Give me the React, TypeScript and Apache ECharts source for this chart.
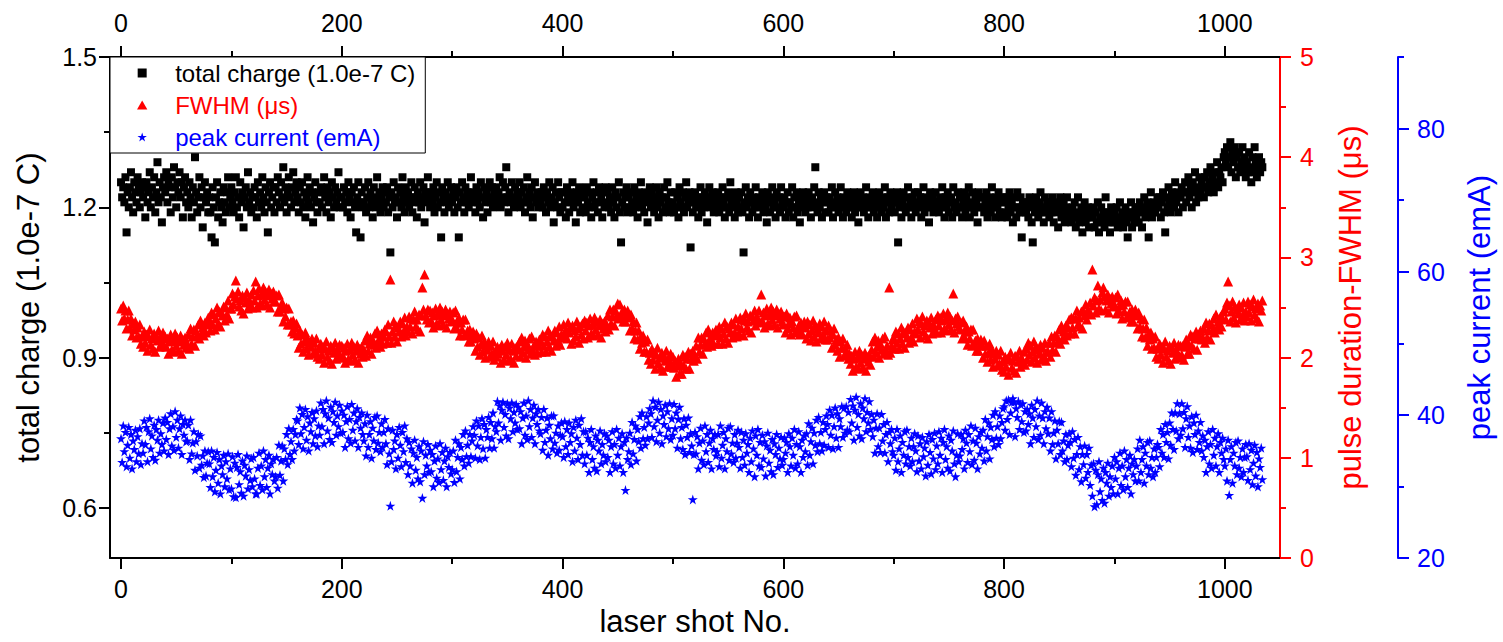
import React, { useEffect, useRef } from "react";
import * as echarts from "echarts";

const FONT = "'Liberation Sans', Arial, Helvetica, sans-serif";

// tick values
const xMajorTicks = [0, 200, 400, 600, 800, 1000];
const xMinorTicks = [100, 300, 500, 700, 900];
const chargeTicks = [0.6, 0.9, 1.2, 1.5];
const chargeMinorTicks = [0.75, 1.05, 1.35];
const fwhmTicks = [0, 1, 2, 3, 4, 5];
const fwhmMinorTicks = [0.5, 1.5, 2.5, 3.5, 4.5];
const currentTicks = [20, 40, 60, 80];
const currentMinorTicks = [30, 50, 70, 90];

// total charge (1.0e-7 C), one value per laser shot, shot No. = index
const chargeC = [
1.25,1.22,1.24,1.21,1.26,1.15,1.23,1.20,1.24,1.27,1.22,1.19,1.25,1.23,1.21,1.26,1.24,1.20,1.23,1.25,
1.22,1.24,1.18,1.25,1.21,1.23,1.27,1.20,1.24,1.22,1.26,1.19,1.23,1.29,1.21,1.25,1.22,1.17,1.24,1.26,
1.23,1.27,1.21,1.25,1.24,1.19,1.26,1.22,1.28,1.24,1.20,1.25,1.23,1.27,1.22,1.25,1.18,1.24,1.26,1.21,
1.23,1.20,1.25,1.22,1.18,1.24,1.21,1.30,1.23,1.19,1.22,1.26,1.20,1.24,1.16,1.22,1.25,1.21,1.23,1.19,
1.22,1.19,1.14,1.24,1.20,1.13,1.22,1.25,1.18,1.21,1.23,1.20,1.17,1.24,1.21,1.19,1.23,1.26,1.20,1.22,
1.24,1.21,1.19,1.23,1.26,1.20,1.22,1.18,1.25,1.21,1.23,1.16,1.22,1.24,1.20,1.27,1.21,1.23,1.19,1.22,
1.20,1.24,1.22,1.18,1.25,1.21,1.23,1.20,1.26,1.22,1.19,1.24,1.21,1.15,1.23,1.25,1.20,1.22,1.24,1.19,
1.24,1.21,1.26,1.23,1.20,1.25,1.22,1.28,1.21,1.24,1.19,1.23,1.26,1.22,1.20,1.24,1.27,1.21,1.23,1.25,
1.22,1.19,1.24,1.21,1.25,1.20,1.23,1.18,1.22,1.26,1.21,1.24,1.20,1.23,1.17,1.22,1.25,1.21,1.19,1.23,
1.21,1.24,1.20,1.23,1.26,1.22,1.19,1.24,1.21,1.23,1.18,1.25,1.22,1.20,1.24,1.21,1.23,1.27,1.20,1.22,
1.22,1.20,1.24,1.21,1.23,1.19,1.25,1.22,1.18,1.23,1.21,1.24,1.20,1.15,1.22,1.25,1.21,1.14,1.23,1.20,
1.21,1.24,1.19,1.22,1.25,1.20,1.23,1.21,1.18,1.24,1.22,1.20,1.26,1.21,1.23,1.19,1.22,1.24,1.20,1.23,
1.21,1.24,1.19,1.22,1.11,1.23,1.20,1.25,1.21,1.22,1.18,1.24,1.21,1.23,1.20,1.26,1.22,1.19,1.24,1.21,
1.23,1.20,1.22,1.25,1.19,1.21,1.24,1.22,1.18,1.23,1.21,1.25,1.20,1.22,1.24,1.17,1.23,1.21,1.26,1.22,
1.20,1.23,1.21,1.24,1.19,1.22,1.25,1.20,1.23,1.21,1.14,1.24,1.22,1.19,1.23,1.21,1.25,1.20,1.22,1.24,
1.21,1.23,1.19,1.22,1.24,1.20,1.14,1.23,1.21,1.25,1.22,1.19,1.24,1.21,1.23,1.20,1.22,1.26,1.21,1.23,
1.22,1.19,1.24,1.21,1.23,1.20,1.25,1.22,1.18,1.24,1.21,1.23,1.19,1.22,1.25,1.21,1.24,1.20,1.23,1.22,
1.24,1.21,1.23,1.26,1.20,1.22,1.25,1.21,1.24,1.28,1.22,1.19,1.23,1.21,1.25,1.22,1.20,1.24,1.21,1.23,
1.22,1.25,1.20,1.23,1.21,1.24,1.19,1.22,1.26,1.21,1.23,1.20,1.24,1.18,1.22,1.25,1.21,1.23,1.20,1.22,
1.21,1.23,1.20,1.24,1.22,1.19,1.23,1.21,1.25,1.20,1.22,1.24,1.17,1.21,1.23,1.20,1.25,1.22,1.19,1.23,
1.20,1.23,1.21,1.18,1.24,1.22,1.19,1.23,1.21,1.25,1.20,1.22,1.17,1.23,1.21,1.24,1.19,1.22,1.20,1.23,
1.22,1.19,1.24,1.21,1.20,1.23,1.18,1.22,1.25,1.20,1.21,1.23,1.19,1.24,1.21,1.22,1.18,1.23,1.20,1.24,
1.21,1.23,1.20,1.22,1.19,1.24,1.21,1.18,1.23,1.20,1.22,1.25,1.19,1.13,1.21,1.23,1.20,1.22,1.24,1.19,
1.22,1.20,1.23,1.21,1.19,1.24,1.20,1.22,1.18,1.23,1.21,1.25,1.20,1.22,1.19,1.23,1.21,1.17,1.22,1.24,
1.20,1.23,1.21,1.19,1.22,1.24,1.20,1.18,1.23,1.21,1.22,1.19,1.24,1.20,1.22,1.25,1.21,1.19,1.23,1.20,
1.21,1.19,1.23,1.20,1.22,1.18,1.24,1.21,1.20,1.23,1.19,1.22,1.25,1.20,1.21,1.23,1.12,1.22,1.19,1.21,
1.23,1.20,1.22,1.18,1.21,1.24,1.19,1.22,1.20,1.23,1.21,1.17,1.22,1.24,1.20,1.21,1.23,1.19,1.22,1.20,
1.21,1.23,1.19,1.22,1.20,1.24,1.21,1.18,1.22,1.20,1.23,1.19,1.25,1.21,1.22,1.20,1.18,1.23,1.21,1.19,
1.22,1.20,1.23,1.19,1.11,1.21,1.24,1.20,1.22,1.18,1.23,1.21,1.19,1.22,1.20,1.24,1.21,1.18,1.22,1.20,
1.21,1.23,1.19,1.22,1.20,1.17,1.23,1.21,1.19,1.22,1.24,1.20,1.21,1.18,1.23,1.20,1.22,1.19,1.24,1.21,
1.20,1.22,1.18,1.21,1.23,1.19,1.21,1.20,1.24,1.18,1.22,1.20,1.23,1.19,1.21,1.17,1.22,1.20,1.23,1.21,
1.19,1.22,1.20,1.23,1.21,1.18,1.22,1.20,1.24,1.28,1.21,1.19,1.23,1.20,1.22,1.18,1.21,1.23,1.19,1.22,
1.21,1.19,1.22,1.20,1.24,1.18,1.21,1.23,1.20,1.22,1.19,1.21,1.24,1.20,1.18,1.22,1.21,1.19,1.23,1.20,
1.22,1.20,1.18,1.21,1.23,1.19,1.22,1.20,1.17,1.21,1.23,1.20,1.22,1.19,1.21,1.24,1.20,1.18,1.22,1.21,
1.20,1.23,1.19,1.21,1.22,1.18,1.20,1.23,1.21,1.19,1.22,1.20,1.24,1.18,1.21,1.22,1.19,1.23,1.20,1.21,
1.22,1.19,1.21,1.23,1.13,1.20,1.22,1.18,1.21,1.23,1.20,1.19,1.22,1.24,1.20,1.21,1.18,1.22,1.20,1.23,
1.19,1.21,1.23,1.20,1.22,1.18,1.21,1.24,1.19,1.22,1.20,1.21,1.17,1.23,1.20,1.22,1.19,1.21,1.23,1.20,
1.21,1.19,1.22,1.20,1.24,1.21,1.18,1.22,1.20,1.23,1.19,1.21,1.22,1.18,1.24,1.20,1.21,1.19,1.23,1.20,
1.22,1.20,1.18,1.21,1.23,1.19,1.22,1.20,1.24,1.18,1.21,1.23,1.20,1.19,1.22,1.21,1.17,1.23,1.20,1.22,
1.20,1.22,1.19,1.21,1.23,1.18,1.20,1.22,1.19,1.24,1.21,1.20,1.18,1.22,1.20,1.23,1.19,1.21,1.18,1.22,
1.21,1.19,1.22,1.18,1.20,1.23,1.19,1.21,1.17,1.22,1.20,1.18,1.23,1.20,1.19,1.22,1.14,1.21,1.19,1.20,
1.19,1.21,1.18,1.22,1.20,1.17,1.13,1.21,1.19,1.22,1.20,1.18,1.21,1.23,1.19,1.20,1.17,1.22,1.19,1.21,
1.20,1.18,1.21,1.19,1.22,1.17,1.20,1.19,1.21,1.16,1.20,1.22,1.18,1.19,1.21,1.17,1.20,1.22,1.18,1.19,
1.19,1.17,1.20,1.18,1.21,1.16,1.19,1.22,1.17,1.18,1.20,1.15,1.19,1.21,1.17,1.18,1.20,1.16,1.19,1.18,
1.18,1.20,1.16,1.19,1.17,1.21,1.15,1.18,1.20,1.17,1.19,1.16,1.22,1.18,1.17,1.19,1.15,1.20,1.18,1.17,
1.19,1.17,1.20,1.16,1.18,1.21,1.17,1.19,1.16,1.18,1.20,1.17,1.14,1.19,1.18,1.21,1.16,1.19,1.17,1.20,
1.18,1.20,1.17,1.21,1.19,1.16,1.20,1.22,1.18,1.19,1.21,1.14,1.20,1.23,1.18,1.19,1.21,1.19,1.20,1.22,
1.20,1.22,1.18,1.21,1.23,1.19,1.15,1.22,1.20,1.24,1.21,1.19,1.23,1.22,1.20,1.25,1.21,1.23,1.19,1.22,
1.22,1.24,1.20,1.23,1.25,1.21,1.23,1.26,1.22,1.24,1.20,1.25,1.23,1.27,1.21,1.24,1.22,1.26,1.23,1.25,
1.24,1.22,1.26,1.24,1.27,1.23,1.25,1.28,1.24,1.26,1.23,1.27,1.25,1.29,1.24,1.27,1.26,1.28,1.25,1.30,
1.31,1.29,1.32,1.28,1.30,1.33,1.27,1.31,1.29,1.32,1.26,1.30,1.28,1.31,1.27,1.29,1.32,1.28,1.30,1.26,
1.29,1.27,1.31,1.28,1.25,1.30,1.27,1.32,1.29,1.26,1.28,1.30,1.27,1.29,1.28,
];

// pulse duration FWHM (μs)
const fwhmUs = [
2.49,2.37,2.52,2.39,2.47,2.29,2.38,2.47,2.30,2.39,2.22,2.34,2.28,2.36,2.20,2.30,2.21,2.33,2.14,2.21,
2.11,2.26,2.15,2.23,2.07,2.21,2.28,2.13,2.19,2.09,2.24,2.06,2.22,2.17,2.27,2.11,2.20,2.15,2.25,2.12,
2.21,2.11,2.19,2.04,2.16,2.23,2.08,2.17,2.06,2.24,2.12,2.20,2.07,2.16,2.22,2.04,2.18,2.13,2.20,2.10,
2.14,2.23,2.09,2.29,2.14,2.21,2.28,2.12,2.27,2.22,2.33,2.19,2.37,2.24,2.30,2.22,2.35,2.25,2.33,2.40,
2.37,2.27,2.45,2.33,2.43,2.28,2.39,2.50,2.34,2.46,2.31,2.45,2.42,2.51,2.37,2.50,2.43,2.57,2.39,2.49,
2.49,2.64,2.53,2.61,2.77,2.59,2.66,2.51,2.57,2.47,2.62,2.44,2.60,2.55,2.65,2.49,2.58,2.53,2.63,2.50,
2.67,2.57,2.76,2.50,2.62,2.69,2.54,2.63,2.52,2.70,2.58,2.66,2.53,2.62,2.68,2.50,2.64,2.59,2.66,2.56,
2.56,2.62,2.46,2.63,2.46,2.51,2.55,2.36,2.49,2.41,2.50,2.33,2.49,2.33,2.36,2.26,2.37,2.24,2.30,2.34,
2.22,2.10,2.27,2.14,2.23,2.06,2.16,2.25,2.09,2.19,2.03,2.15,2.11,2.19,2.04,2.15,2.07,2.19,2.01,2.09,
1.99,2.14,2.03,2.11,1.95,2.09,2.16,2.01,2.07,1.97,2.12,1.94,2.10,2.05,2.15,1.99,2.08,2.03,2.13,2.00,
2.12,2.02,2.10,1.95,2.07,2.14,1.99,2.08,1.97,2.15,2.03,2.11,1.98,2.07,2.13,1.95,2.09,2.04,2.11,2.01,
2.08,2.17,2.02,2.22,2.07,2.14,2.20,2.04,2.18,2.13,2.24,2.10,2.27,2.14,2.19,2.11,2.24,2.14,2.21,2.28,
2.26,2.15,2.33,2.21,2.78,2.15,2.26,2.36,2.21,2.32,2.16,2.30,2.26,2.36,2.21,2.34,2.26,2.40,2.22,2.31,
2.26,2.41,2.31,2.39,2.24,2.38,2.46,2.31,2.38,2.28,2.43,2.26,2.42,2.70,2.48,2.83,2.42,2.38,2.48,2.35,
2.47,2.37,2.45,2.30,2.42,2.49,2.34,2.43,2.32,2.50,2.38,2.46,2.33,2.42,2.48,2.30,2.44,2.39,2.46,2.36,
2.38,2.45,2.29,2.47,2.30,2.35,2.40,2.22,2.35,2.28,2.38,2.22,2.38,2.23,2.27,2.16,2.28,2.16,2.22,2.26,
2.19,2.07,2.24,2.11,2.20,2.03,2.13,2.22,2.06,2.16,2.00,2.12,2.08,2.16,2.01,2.12,2.04,2.16,1.98,2.06,
2.01,2.11,2.04,2.09,1.95,2.13,2.07,1.98,2.11,2.03,2.15,1.97,2.08,1.99,2.14,2.07,1.95,2.10,2.02,2.12,
2.08,2.16,2.01,2.20,2.05,2.11,2.17,2.00,2.14,2.08,2.19,2.04,2.21,2.07,2.12,2.03,2.16,2.05,2.12,2.18,
2.16,2.06,2.23,2.12,2.21,2.06,2.16,2.27,2.11,2.23,2.07,2.21,2.17,2.27,2.12,2.25,2.17,2.31,2.13,2.23,
2.20,2.33,2.23,2.28,2.19,2.35,2.25,2.30,2.14,2.32,2.17,2.27,2.21,2.36,2.29,2.15,2.31,2.23,2.34,2.19,
2.37,2.27,2.35,2.20,2.32,2.39,2.24,2.33,2.22,2.40,2.28,2.36,2.23,2.32,2.38,2.20,2.34,2.29,2.36,2.26,
2.33,2.42,2.28,2.48,2.34,2.41,2.48,2.32,2.47,2.42,2.54,2.39,2.53,2.42,2.46,2.36,2.48,2.36,2.42,2.47,
2.40,2.27,2.43,2.29,2.36,2.19,2.27,2.35,2.18,2.27,2.09,2.21,2.15,2.22,2.06,2.16,2.06,2.18,1.98,2.05,
1.94,2.09,1.98,2.05,1.89,2.03,2.10,1.94,2.00,1.90,2.05,1.87,2.02,1.97,2.07,1.91,1.99,1.94,2.04,1.91,
2.01,1.90,1.97,1.81,1.92,1.99,1.84,1.94,1.84,2.03,1.92,2.01,1.89,1.99,2.06,1.89,2.04,1.99,2.07,1.97,
2.02,2.12,1.99,2.20,2.06,2.13,2.20,2.04,2.19,2.14,2.25,2.11,2.28,2.15,2.20,2.12,2.25,2.14,2.22,2.28,
2.24,2.14,2.31,2.20,2.29,2.14,2.24,2.35,2.19,2.31,2.15,2.29,2.25,2.35,2.20,2.33,2.25,2.39,2.21,2.31,
2.24,2.40,2.29,2.38,2.22,2.37,2.44,2.30,2.36,2.27,2.42,2.25,2.41,2.37,2.47,2.32,2.41,2.37,2.47,2.35,
2.63,2.37,2.45,2.30,2.42,2.49,2.34,2.43,2.32,2.50,2.38,2.46,2.33,2.42,2.48,2.30,2.44,2.39,2.46,2.36,
2.33,2.41,2.25,2.44,2.29,2.34,2.40,2.23,2.36,2.30,2.41,2.25,2.42,2.28,2.32,2.23,2.35,2.24,2.31,2.36,
2.30,2.19,2.36,2.24,2.33,2.17,2.27,2.37,2.21,2.32,2.16,2.29,2.25,2.34,2.19,2.31,2.23,2.36,2.18,2.27,
2.18,2.32,2.20,2.27,2.10,2.23,2.29,2.13,2.18,2.07,2.20,2.01,2.16,2.10,2.19,2.02,2.10,2.04,2.13,1.99,
2.04,1.94,2.02,1.87,1.99,2.06,1.91,2.00,1.89,2.07,1.95,2.03,1.90,1.99,2.05,1.87,2.01,1.96,2.03,1.93,
2.08,2.16,2.01,2.20,2.05,2.11,2.17,2.00,2.14,2.08,2.19,2.04,2.21,2.07,2.12,2.03,2.70,2.05,2.12,2.18,
2.19,2.09,2.26,2.15,2.24,2.09,2.19,2.30,2.14,2.26,2.10,2.24,2.20,2.30,2.15,2.28,2.20,2.34,2.16,2.26,
2.24,2.39,2.28,2.36,2.20,2.34,2.41,2.26,2.32,2.22,2.37,2.19,2.35,2.30,2.40,2.24,2.33,2.28,2.38,2.25,
2.42,2.32,2.40,2.25,2.37,2.44,2.29,2.38,2.27,2.45,2.33,2.41,2.28,2.37,2.64,2.25,2.39,2.34,2.41,2.31,
2.28,2.35,2.19,2.37,2.21,2.26,2.31,2.13,2.26,2.19,2.28,2.12,2.28,2.13,2.17,2.07,2.19,2.07,2.13,2.18,
2.12,2.00,2.17,2.04,2.12,1.96,2.05,2.14,1.98,2.08,1.91,2.04,1.99,2.07,1.92,2.03,1.94,2.07,1.88,1.96,
1.86,2.01,1.91,1.99,1.83,1.98,2.05,1.90,1.97,1.87,2.02,1.85,2.01,1.96,2.07,1.91,2.00,1.96,2.06,1.93,
2.09,1.98,2.15,2.03,2.12,1.96,2.06,2.16,2.00,2.11,1.95,2.08,2.04,2.13,1.98,2.10,2.02,2.15,1.97,2.06,
2.06,2.15,2.01,2.21,2.08,2.15,2.22,2.06,2.21,2.16,2.28,2.14,2.32,2.19,2.26,2.18,2.32,2.22,2.30,2.38,
2.24,2.40,2.30,2.39,2.24,2.39,2.47,2.33,2.40,2.31,2.46,2.29,2.46,2.42,2.53,2.38,2.48,2.44,2.55,2.43,
2.88,2.52,2.60,2.45,2.57,2.72,2.49,2.58,2.47,2.65,2.70,2.61,2.48,2.57,2.63,2.45,2.59,2.54,2.61,2.51,
2.53,2.60,2.44,2.63,2.47,2.52,2.57,2.39,2.53,2.46,2.56,2.40,2.56,2.42,2.46,2.36,2.48,2.36,2.43,2.48,
2.42,2.29,2.45,2.31,2.39,2.21,2.29,2.38,2.20,2.30,2.12,2.24,2.18,2.25,2.09,2.19,2.10,2.21,2.01,2.09,
1.99,2.14,2.03,2.11,1.95,2.09,2.16,2.01,2.07,1.97,2.12,1.94,2.10,2.05,2.15,1.99,2.08,2.03,2.13,2.00,
2.12,2.03,2.12,1.98,2.11,2.18,2.04,2.14,2.04,2.23,2.12,2.21,2.09,2.19,2.26,2.08,2.23,2.19,2.27,2.18,
2.20,2.29,2.15,2.35,2.20,2.27,2.34,2.18,2.33,2.28,2.39,2.25,2.43,2.30,2.36,2.28,2.41,2.31,2.39,2.46,
2.49,2.38,2.55,2.76,2.52,2.36,2.46,2.56,2.40,2.51,2.35,2.48,2.44,2.53,2.38,2.50,2.42,2.55,2.37,2.46,
2.41,2.56,2.45,2.53,2.37,2.51,2.58,2.43,2.49,2.39,2.54,2.36,2.52,2.47,2.57,
];

// peak current (emA)
const peakCurrent = [
36.7,33.4,38.5,34.9,37.6,32.8,35.8,38.3,34.0,37.3,32.5,36.4,35.2,37.9,33.5,37.0,34.6,38.1,33.1,36.0,
34.7,39.2,35.9,38.3,33.5,37.7,39.5,35.3,37.1,34.1,38.6,33.7,38.0,36.5,39.3,34.7,37.4,35.9,38.9,35.0,
39.6,36.6,39.0,34.5,38.1,40.2,35.7,38.4,35.1,40.5,36.9,39.3,35.4,38.1,39.9,34.5,38.7,37.2,39.3,36.3,
36.4,38.6,33.8,39.3,34.6,36.1,37.7,32.3,36.3,34.3,37.3,32.6,37.1,33.0,34.3,31.3,35.0,31.5,33.3,34.9,
33.2,29.9,35.0,31.4,34.1,29.3,32.3,34.8,30.5,33.8,29.0,32.9,31.7,34.4,30.0,33.5,31.1,34.6,29.6,32.5,
29.7,34.2,28.6,33.3,28.5,32.7,34.5,30.3,32.1,29.1,33.6,28.7,33.0,31.5,34.3,29.7,32.4,30.9,33.9,30.0,
34.1,31.1,29.0,29.0,32.6,34.7,30.2,32.9,29.6,35.0,31.4,33.8,29.9,32.6,34.4,29.0,33.2,31.7,33.8,30.8,
31.4,34.1,29.8,35.8,31.6,33.6,35.7,30.8,35.3,33.8,37.3,33.1,38.1,34.5,36.3,33.8,38.0,35.0,37.3,39.4,
39.2,35.9,41.0,37.4,40.1,35.3,38.3,40.8,36.5,39.8,35.0,38.9,37.7,40.4,36.0,39.5,37.1,40.6,35.6,38.5,
37.2,41.7,38.4,40.8,36.0,40.2,42.0,37.8,39.6,36.6,41.1,36.2,40.5,39.0,41.8,37.2,39.9,38.4,41.4,37.5,
40.6,37.6,40.0,35.5,39.1,41.2,36.7,39.4,36.1,41.5,37.9,40.3,36.4,39.1,40.9,35.5,39.7,38.2,40.3,37.3,
36.4,38.8,34.3,40.0,35.5,37.3,39.1,34.0,38.2,36.4,39.7,35.2,39.9,36.1,37.6,34.9,38.8,35.5,37.6,39.4,
36.0,33.1,38.1,34.6,27.3,33.5,37.9,35.2,36.4,32.5,37.3,34.0,38.3,35.8,32.8,37.6,34.9,38.5,33.4,36.7,
31.7,36.2,32.9,35.3,30.5,34.7,36.5,32.3,34.1,31.1,35.6,30.7,35.0,28.4,36.3,31.7,34.4,32.9,35.9,32.0,
35.1,32.1,34.5,30.0,33.6,35.7,31.2,33.9,30.6,36.0,32.4,34.8,30.9,33.6,35.4,30.0,34.2,32.7,34.8,31.8,
32.4,35.0,30.6,36.5,32.1,34.1,36.0,31.1,35.5,33.8,37.3,32.9,37.8,34.2,35.8,33.3,37.3,34.2,36.4,38.4,
37.2,34.0,39.2,35.7,38.5,33.8,36.9,39.5,35.3,38.7,34.0,38.0,36.9,39.7,35.4,39.0,36.7,40.3,35.4,38.4,
37.7,41.9,38.9,41.3,36.5,40.7,41.8,38.3,40.1,37.1,41.6,36.7,41.0,39.5,41.7,37.7,40.4,38.9,41.5,38.0,
41.1,38.1,40.5,36.0,39.6,41.7,37.2,39.9,36.6,42.0,38.4,40.8,36.9,39.6,41.4,36.0,40.2,38.7,40.8,37.8,
37.4,39.7,35.1,40.8,36.2,37.9,39.6,34.4,38.6,36.7,39.9,35.3,39.9,36.1,37.5,34.7,38.5,35.1,37.2,38.9,
37.0,34.1,39.1,35.6,38.0,34.5,38.9,36.2,37.4,33.5,38.3,35.0,39.3,36.8,33.8,38.6,35.9,39.5,34.4,37.7,
33.2,37.7,34.4,36.8,32.0,36.2,38.0,33.8,35.6,32.6,37.1,32.2,36.5,35.0,37.8,33.2,35.9,34.4,37.4,33.5,
37.1,34.1,36.5,32.0,35.6,37.7,33.2,35.9,32.6,38.0,34.4,36.8,32.9,35.6,37.4,32.0,36.2,29.5,36.8,33.8,
34.9,37.5,33.1,39.0,34.6,36.6,38.5,33.6,38.0,36.3,39.8,35.4,40.3,36.7,38.3,35.8,39.8,36.7,38.9,40.9,
40.2,36.9,42.0,38.4,41.1,36.3,39.3,41.8,37.5,40.8,36.0,39.9,38.7,41.4,37.0,40.5,38.1,41.6,36.6,39.5,
37.2,41.5,38.1,40.3,35.4,39.4,41.1,36.7,38.3,35.2,39.5,34.5,38.6,36.9,39.6,34.8,37.4,35.7,28.2,34.5,
37.6,34.6,37.0,32.5,36.1,38.2,33.7,36.4,33.1,38.5,34.9,37.3,33.4,36.1,37.9,32.5,36.7,35.2,37.3,34.3,
34.9,37.3,32.8,38.5,34.0,35.8,37.6,32.5,36.7,34.9,38.2,33.7,38.4,34.6,36.1,33.4,37.3,34.0,36.1,37.9,
35.5,32.6,37.6,34.1,36.5,33.0,37.4,34.7,35.9,32.0,36.8,33.5,37.8,35.3,31.4,37.1,34.4,38.0,32.9,36.2,
32.7,37.2,33.9,36.3,31.5,35.7,37.5,33.3,35.1,32.1,36.6,31.7,36.0,34.5,37.3,32.7,35.4,33.9,36.9,33.0,
33.8,36.8,34.7,36.2,32.0,37.4,35.6,32.9,36.8,34.4,38.0,32.6,35.9,33.2,37.7,35.6,32.0,36.5,34.1,37.1,
34.9,37.4,33.0,38.8,34.4,36.3,38.2,33.2,37.5,35.8,39.3,34.9,39.7,36.0,37.6,35.0,39.0,35.8,38.0,39.9,
38.7,35.5,40.7,37.2,40.0,35.3,38.4,41.0,36.8,40.2,35.5,39.5,38.4,41.2,36.9,41.0,37.5,41.2,37.9,40.4,
37.7,42.2,38.9,41.3,36.5,40.7,42.5,38.3,40.1,37.1,41.6,36.7,41.0,39.5,42.3,37.7,40.4,38.9,41.9,38.0,
40.1,37.0,39.3,34.7,38.2,40.2,35.6,38.2,34.8,40.1,36.4,38.7,34.7,37.3,39.0,33.5,37.6,36.0,38.0,34.9,
34.4,36.8,32.3,38.0,33.5,35.3,37.1,32.0,36.2,34.4,37.7,33.2,37.9,34.1,35.6,32.9,36.8,33.5,35.6,37.4,
35.0,32.1,37.1,33.6,36.0,32.5,36.9,34.2,35.4,31.5,36.3,33.0,37.3,34.8,31.8,36.6,33.9,37.5,32.4,35.7,
33.2,37.7,34.4,36.8,32.0,36.2,38.0,33.8,35.6,32.6,37.1,32.2,36.5,35.0,37.8,33.2,31.4,34.4,37.4,33.5,
34.3,37.3,35.2,36.7,32.5,37.9,36.1,33.4,37.3,34.9,38.5,33.1,36.4,33.7,38.2,36.1,32.5,37.0,34.6,37.6,
35.4,37.9,33.6,39.4,35.0,37.0,38.9,33.9,38.3,36.6,40.0,35.6,40.5,36.8,38.4,35.9,39.9,36.7,39.0,40.9,
41.2,37.9,42.0,39.4,42.1,37.3,40.3,41.8,42.3,41.8,37.0,40.9,39.7,41.9,38.0,41.5,39.1,41.6,37.6,40.5,
37.8,40.8,38.7,40.2,36.0,41.4,39.6,36.9,40.8,38.4,42.0,36.6,39.9,37.2,41.7,39.6,36.0,40.5,38.1,41.1,
37.4,39.6,35.0,40.5,35.9,37.5,39.2,33.9,37.9,36.0,39.1,34.5,39.0,35.0,36.4,33.5,37.3,33.8,35.8,37.4,
36.2,32.8,37.7,34.0,36.6,31.6,34.5,36.9,32.4,35.6,30.7,34.5,33.1,35.7,31.2,34.5,32.0,35.4,30.2,33.0,
28.7,33.2,27.2,32.3,27.5,31.7,33.5,29.3,31.1,28.1,32.6,27.7,32.0,30.5,33.3,28.7,31.4,29.9,32.9,29.0,
34.1,31.1,33.5,29.0,32.6,34.7,30.2,32.9,29.6,35.0,31.4,33.8,29.9,32.6,34.4,29.0,33.2,31.7,33.8,30.8,
32.9,35.3,30.8,36.5,32.0,33.8,35.6,30.5,34.7,32.9,36.2,31.7,36.4,32.6,34.1,31.4,35.3,32.0,34.1,35.9,
35.5,32.8,38.0,34.7,37.3,34.1,38.7,36.2,37.6,33.9,38.9,35.8,40.3,38.0,35.2,40.3,37.8,41.6,36.7,40.2,
37.2,41.6,38.1,40.4,35.5,39.5,41.2,36.9,38.5,35.4,39.8,34.8,38.9,37.3,40.0,35.2,37.8,36.2,39.0,35.0,
37.1,34.1,36.5,32.0,35.6,37.7,33.2,35.9,32.6,38.0,34.4,36.8,32.9,35.6,37.4,32.0,36.2,34.7,36.8,33.8,
32.9,35.3,30.8,36.5,28.8,33.8,35.6,30.5,34.7,32.9,36.2,31.7,36.4,32.6,34.1,31.4,35.3,32.0,34.1,35.9,
34.2,30.9,36.0,32.4,35.1,30.3,33.3,35.8,31.5,34.8,30.0,33.9,32.7,35.4,31.0,
];

const SERIES_NAMES = ["total charge (1.0e-7 C)", "FWHM (μs)", "peak current (emA)"];
const SERIES_COLORS = ["#000000", "#ff0000", "#0000ff"];

const STAR =
  "path://M50,0L61.2,34.5L97.6,34.5L68.2,55.9L79.4,90.5L50,69.1L20.6,90.5L31.8,55.9L2.4,34.5L38.8,34.5Z";
const SQUARE = "path://M0,0L10,0L10,10L0,10Z";
const TRIANGLE = "path://M50,0L100,87L0,87Z";

function xAxisDef(position: "top" | "bottom", major: boolean, extra: any = {}) {
  return {
    type: "value",
    gridIndex: 0,
    position,
    min: -10,
    max: 1050,
    axisLine: { show: major, onZero: false, lineStyle: { color: "#000", width: 2 } },
    axisTick: {
      show: true,
      inside: false,
      length: major ? 11 : 6,
      lineStyle: { color: "#000", width: 2 },
      customValues: major ? xMajorTicks : xMinorTicks,
    },
    axisLabel: {
      show: major,
      customValues: xMajorTicks,
      color: "#000",
      fontSize: 25,
      fontFamily: FONT,
      margin: position === "bottom" ? 18 : 22,
      formatter: (v: number) => String(Math.round(v)),
    },
    splitLine: { show: false },
    ...extra,
  };
}

function yAxisDef(opts: {
  position: "left" | "right";
  offset: number;
  min: number;
  max: number;
  ticks: number[];
  labels: number[] | null;
  color: string;
  major: boolean;
  margin?: number;
  decimals?: number;
  extra?: any;
}) {
  return {
    type: "value",
    gridIndex: 0,
    position: opts.position,
    offset: opts.offset,
    min: opts.min,
    max: opts.max,
    axisLine: { show: opts.major, onZero: false, lineStyle: { color: opts.color, width: 2 } },
    axisTick: {
      show: true,
      inside: false,
      length: opts.major ? 11 : 6,
      lineStyle: { color: opts.color, width: 2 },
      customValues: opts.ticks,
    },
    axisLabel: {
      show: !!opts.labels,
      customValues: opts.labels || opts.ticks,
      color: opts.color,
      fontSize: 25,
      fontFamily: FONT,
      margin: opts.margin ?? 14,
      formatter: (v: number) => (opts.decimals ? v.toFixed(opts.decimals) : String(Math.round(v))),
    },
    splitLine: { show: false },
    ...(opts.extra || {}),
  };
}

export default function App() {
  const ref = useRef<HTMLDivElement>(null);

  useEffect(() => {
    if (!ref.current) return;
    const chart = echarts.init(ref.current, null, { renderer: "svg" });

    const nameStyle = (color: string) => ({ fontSize: 31, color, fontFamily: FONT });

    const option: any = {
      animation: false,
      backgroundColor: "#ffffff",
      grid: { left: 110, right: 213, top: 57, bottom: 78, containLabel: false },
      legend: {
        show: true,
        orient: "vertical",
        left: 110,
        top: 57,
        padding: [4, 10, 4, 27],
        itemGap: 8,
        itemWidth: 56,
        itemHeight: 9,
        backgroundColor: "#ffffff",
        borderColor: "#000000",
        borderWidth: 1,
        borderRadius: 0,
        selectedMode: false,
        textStyle: { fontSize: 24, fontFamily: FONT, lineHeight: 24 },
        data: [
          { name: SERIES_NAMES[0], icon: SQUARE, textStyle: { color: SERIES_COLORS[0] } },
          { name: SERIES_NAMES[1], icon: TRIANGLE, textStyle: { color: SERIES_COLORS[1] } },
          { name: SERIES_NAMES[2], icon: STAR, textStyle: { color: SERIES_COLORS[2] } },
        ],
      },
      xAxis: [
        xAxisDef("bottom", true, {
          name: "laser shot No.",
          nameLocation: "middle",
          nameGap: 45,
          nameTextStyle: nameStyle("#000"),
        }),
        xAxisDef("bottom", false),
        xAxisDef("top", true),
        xAxisDef("top", false),
      ],
      yAxis: [
        yAxisDef({
          position: "left", offset: 0, min: 0.5, max: 1.5, ticks: chargeTicks, labels: chargeTicks,
          color: "#000", major: true, margin: 13, decimals: 1,
          extra: {
            name: "total charge (1.0e-7 C)", nameLocation: "middle", nameGap: 66,
            nameTextStyle: nameStyle("#000"),
          },
        }),
        yAxisDef({
          position: "left", offset: 0, min: 0.5, max: 1.5, ticks: chargeMinorTicks, labels: null,
          color: "#000", major: false,
        }),
        yAxisDef({
          position: "right", offset: 0, min: 0, max: 5, ticks: fwhmTicks, labels: fwhmTicks,
          color: "#ff0000", major: true, margin: 20,
          extra: {
            name: "pulse duration-FWHM (μs)", nameLocation: "middle", nameGap: 55,
            nameTextStyle: nameStyle("#ff0000"),
          },
        }),
        yAxisDef({
          position: "right", offset: 0, min: 0, max: 5, ticks: fwhmMinorTicks, labels: null,
          color: "#ff0000", major: false,
        }),
        yAxisDef({
          position: "right", offset: 118, min: 20, max: 90, ticks: currentTicks, labels: currentTicks,
          color: "#0000ff", major: true, margin: 19,
          extra: {
            name: "peak current (emA)", nameLocation: "middle", nameGap: 66,
            nameTextStyle: nameStyle("#0000ff"),
          },
        }),
        yAxisDef({
          position: "right", offset: 118, min: 20, max: 90, ticks: currentMinorTicks, labels: null,
          color: "#0000ff", major: false,
        }),
      ],
      series: [
        {
          type: "scatter",
          name: SERIES_NAMES[0],
          xAxisIndex: 0,
          yAxisIndex: 0,
          symbol: "rect",
          symbolSize: 8,
          itemStyle: { color: SERIES_COLORS[0], opacity: 1 },
          silent: true,
          data: chargeC.map((v, i) => [i, v]),
        },
        {
          type: "scatter",
          name: SERIES_NAMES[1],
          xAxisIndex: 0,
          yAxisIndex: 2,
          symbol: "triangle",
          symbolSize: 10,
          itemStyle: { color: SERIES_COLORS[1], opacity: 1 },
          silent: true,
          data: fwhmUs.map((v, i) => [i, v]),
        },
        {
          type: "scatter",
          name: SERIES_NAMES[2],
          xAxisIndex: 0,
          yAxisIndex: 4,
          symbol: STAR,
          symbolSize: 10,
          itemStyle: { color: SERIES_COLORS[2], opacity: 1 },
          silent: true,
          data: peakCurrent.map((v, i) => [i, v]),
        },
      ],
    };

    chart.setOption(option);
    return () => {
      chart.dispose();
    };
  }, []);

  return (
    <div
      ref={ref}
      style={{ position: "absolute", left: 0, top: 0, width: 1503, height: 642, background: "#fff" }}
    />
  );
}
